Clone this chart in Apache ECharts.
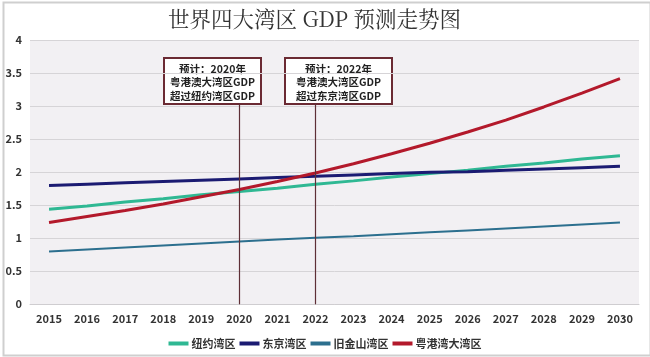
<!DOCTYPE html>
<html><head><meta charset="utf-8">
<script src="https://cdn.jsdelivr.net/npm/echarts@6/dist/echarts.min.js"></script>
<style>html,body{margin:0;padding:0;background:#fff}#c{width:650px;height:357px}</style>
</head><body><div id="c"></div>
<script>
const years = ['2015','2016','2017','2018','2019','2020','2021','2022','2023','2024','2025','2026','2027','2028','2029','2030'];
const newYork = [1.44,1.49,1.55,1.60,1.66,1.71,1.76,1.82,1.87,1.93,1.98,2.03,2.09,2.14,2.20,2.25];
const tokyo = [1.80,1.82,1.84,1.86,1.88,1.90,1.92,1.94,1.96,1.98,2.00,2.01,2.03,2.05,2.07,2.09];
const sanFrancisco = [0.80,0.83,0.86,0.89,0.92,0.95,0.98,1.01,1.03,1.06,1.09,1.12,1.15,1.18,1.21,1.24];
const greaterBay = [1.24,1.33,1.42,1.52,1.63,1.74,1.86,1.99,2.13,2.28,2.44,2.61,2.79,2.99,3.20,3.42];
const seriesNames = ['纽约湾区','东京湾区','旧金山湾区','粤港湾大湾区'];
const markYears = ['2020','2022'];
const markTop = 3.05;
const notes = [['预计：2020年','粤港澳大湾区GDP','超过纽约湾区GDP'],['预计：2022年','粤港澳大湾区GDP','超过东京湾区GDP']];

const chart = echarts.init(document.getElementById('c'));
const font = '"Noto Sans CJK SC", "Noto Sans", sans-serif';
function line(name, data, color, width, extra) {
  return Object.assign({name, type:'line', data, symbol:'none', smooth:false,
    lineStyle:{color, width}, itemStyle:{color}, z:3}, extra||{});
}
function box(x, w, lines) {
  return {type:'group', left:x, top:57, children:[
    {type:'rect', shape:{x:0,y:0,width:w,height:46}, style:{fill:'#fff', stroke:'#6b2a33', lineWidth:2}},
    {type:'text', style:{x:w/2, y:4, text:lines.join('\n'), align:'center', verticalAlign:'top',
      font:'bold 10.5px ' + font, lineHeight:13.5, fill:'#222'}}
  ]};
}
chart.setOption({
  backgroundColor:'#fff',
  animation:false,
  title:{text:'世界四大湾区 GDP 预测走势图', left:163, top:3,
    textStyle:{fontFamily:'"Noto Serif CJK SC", serif, "Noto Sans CJK SC"', fontSize:21.5, fontWeight:'normal', color:'#333'}},
  grid:{left:30, right:11, top:40.3, bottom:52.7, show:true, backgroundColor:'#f2f0f3', borderWidth:0},
  legend:{bottom:3, left:'center', data:seriesNames, icon:'rect', itemWidth:20, itemHeight:4, itemGap:4,
    textStyle:{fontFamily:font, fontSize:11, fontWeight:'bold', color:'#333', padding:[0,0,0,-2]}},
  xAxis:{type:'category', data:years, boundaryGap:true,
    axisLine:{show:true, lineStyle:{color:'#cfcdd0', width:1}}, axisTick:{show:false},
    axisLabel:{fontFamily:font, fontSize:11, fontWeight:'bold', color:'#333', margin:9, interval:0}},
  yAxis:{type:'value', min:0, max:4, interval:0.5,
    axisLine:{show:false}, axisTick:{show:false},
    splitLine:{lineStyle:{color:'#d6d4d7', width:1}},
    axisLabel:{fontFamily:font, fontSize:11, fontWeight:'bold', color:'#333', margin:8}},
  series:[
    line(seriesNames[0], newYork, '#2fb893', 3),
    line(seriesNames[1], tokyo, '#1b1b72', 3),
    line(seriesNames[2], sanFrancisco, '#2c6f8e', 2),
    line(seriesNames[3], greaterBay, '#b3192b', 3, {
      markLine:{silent:true, symbol:['none','none'], label:{show:false},
        lineStyle:{color:'#5e2f36', width:1.2, type:'solid'},
        data: markYears.map(y => [{coord:[y, 0]}, {coord:[y, markTop]}])}
    })
  ],
  graphic:[
    {type:'rect', left:1, top:0, shape:{x:0,y:0,width:647,height:353}, style:{fill:'none', stroke:'#cfcfcf', lineWidth:2}, silent:true},
    box(163, 97, notes[0]),
    box(284, 107, notes[1])
  ]
});
</script></body></html>
